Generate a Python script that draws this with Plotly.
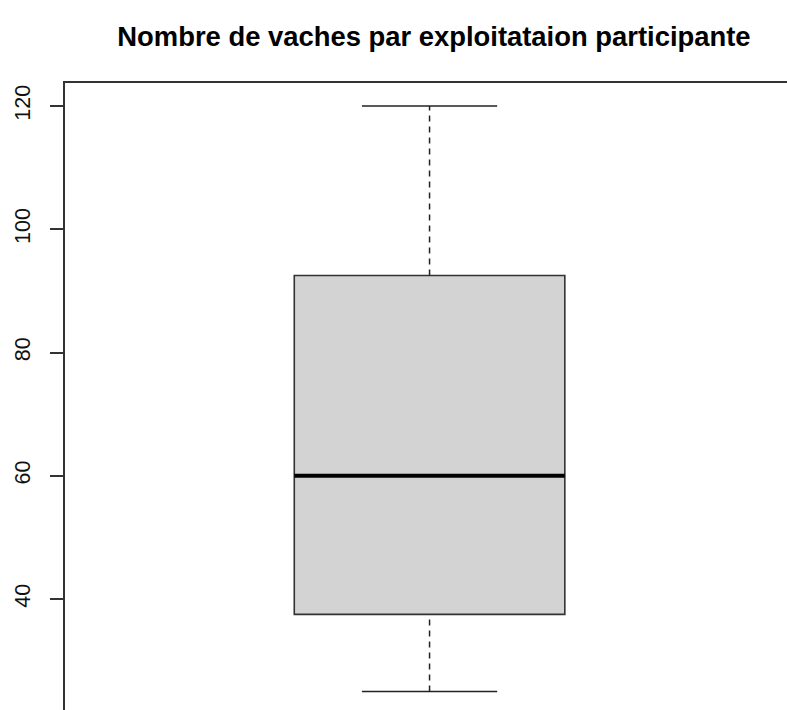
import plotly.graph_objects as go

# Summary statistics
categories = [1]
q1 = [37.5]
median = [60]
q3 = [92.5]
lower_whisker = [25]
upper_whisker = [120]
tick_values = [40, 60, 80, 100, 120]
tick_labels = ["40", "60", "80", "100", "120"]
title_text = "Nombre de vaches par exploitataion participante"

box_width = 0.8
cap_half = box_width / 4

fig = go.Figure()

fig.add_trace(go.Box(
    x=categories, q1=q1, median=median, q3=q3,
    lowerfence=q1, upperfence=q3,
    width=box_width, whiskerwidth=0,
    fillcolor="#D3D3D3", line=dict(color="#333333", width=1.6),
    boxpoints=False, showlegend=False, hoverinfo="skip",
))

for c, lo, a, b, hi, m in zip(categories, lower_whisker, q1, q3, upper_whisker, median):
    # dashed whiskers
    for y0, y1 in [(b, hi), (lo, a)]:
        fig.add_trace(go.Scatter(x=[c, c], y=[y0, y1], mode="lines",
                                 line=dict(color="#222222", width=1.5, dash="6px,5px"),
                                 showlegend=False, hoverinfo="skip"))
    # caps
    for yv in [lo, hi]:
        fig.add_trace(go.Scatter(x=[c - cap_half, c + cap_half], y=[yv, yv], mode="lines",
                                 line=dict(color="#222222", width=1.6),
                                 showlegend=False, hoverinfo="skip"))
    # thick median
    fig.add_trace(go.Scatter(x=[c - box_width / 2, c + box_width / 2], y=[m, m], mode="lines",
                             line=dict(color="#000000", width=3.8),
                             showlegend=False, hoverinfo="skip"))

fig.update_layout(
    width=787, height=710,
    margin=dict(l=64.5, r=0, t=83, b=0),
    paper_bgcolor="white", plot_bgcolor="white",
    font=dict(family="Liberation Sans, Arial, sans-serif", color="#000000"),
    title=dict(text="<b>" + title_text + "</b>", x=0.511, xref="paper",
               y=1 - 36 / 710, yref="container", yanchor="middle", xanchor="center",
               font=dict(size=27.4, color="#000000")),
    xaxis=dict(range=[-0.078, 2.057], showline=True, side="top", linecolor="#333333",
               linewidth=1.6, showticklabels=False, ticks="", showgrid=False,
               zeroline=False, mirror=False),
    yaxis=dict(range=[21.99, 123.73], showline=True, linecolor="#333333", linewidth=1.6,
               tickmode="array", tickvals=tick_values, ticktext=tick_labels,
               ticks="outside", ticklen=13, tickwidth=1.6, tickcolor="#333333",
               tickangle=-90, tickfont=dict(size=21.5, color="#111111"),
               ticklabelstandoff=12,
               showgrid=False, zeroline=False, mirror=False),
)

fig.write_html(
    "out.html",
    config={"displayModeBar": False},
    post_script="document.body.style.margin='0';"
                "document.documentElement.style.overflow='hidden';"
                "document.body.style.overflow='hidden';",
)
